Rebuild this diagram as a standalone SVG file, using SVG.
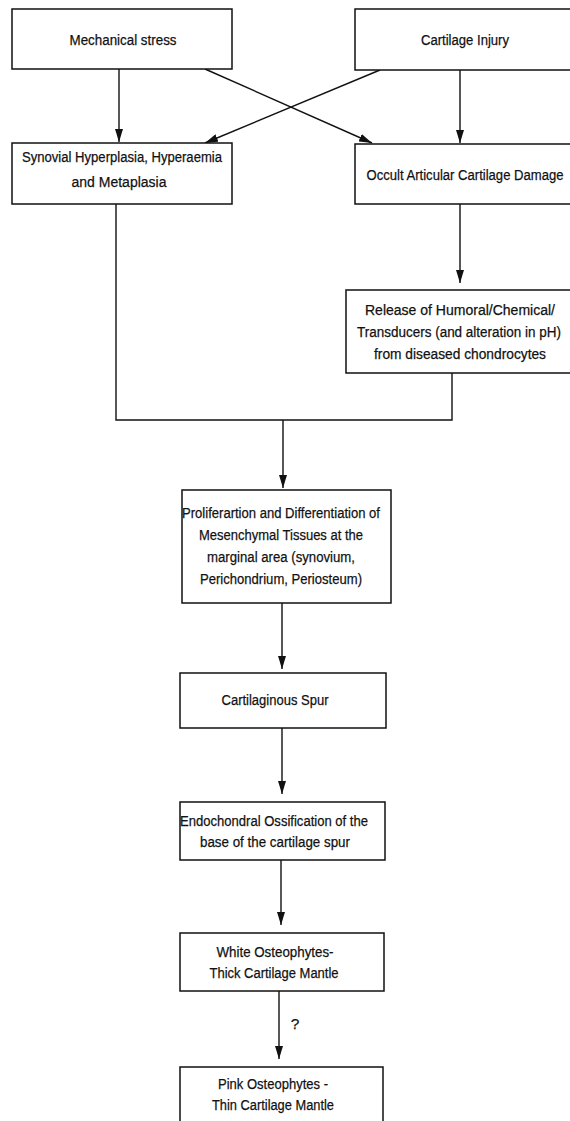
<svg xmlns="http://www.w3.org/2000/svg" width="570" height="1121" viewBox="0 0 570 1121">
<defs>
<marker id="ah" markerUnits="userSpaceOnUse" markerWidth="14" markerHeight="8" refX="13" refY="4" orient="auto">
<path d="M0,0 L13,4 L0,8 z" fill="#111"/>
</marker>
<style>
.box{fill:#fff;stroke:#111;stroke-width:1.5}
.t{font-family:"Liberation Sans",Arial,sans-serif;font-size:15.5px;fill:#111;stroke:#111;stroke-width:0.25;text-anchor:middle}
.c{fill:none;stroke:#111;stroke-width:1.4}
.a{marker-end:url(#ah)}
</style>
</defs>
<rect width="570" height="1121" fill="#fff"/>
<g id="connectors">
<line class="c a" x1="119" y1="69" x2="119" y2="142"/>
<line class="c a" x1="205" y1="69" x2="372" y2="143"/>
<line class="c a" x1="380" y1="70" x2="205" y2="143"/>
<line class="c a" x1="460" y1="70" x2="460" y2="143"/>
<line class="c a" x1="460" y1="204" x2="460" y2="283"/>
<polyline class="c" points="116,204 116,420 452,420 452,373"/>
<line class="c a" x1="283" y1="420" x2="283" y2="488"/>
<line class="c a" x1="282" y1="603" x2="282" y2="669"/>
<line class="c a" x1="282" y1="728" x2="282" y2="794"/>
<line class="c a" x1="281" y1="860" x2="281" y2="925"/>
<line class="c a" x1="279" y1="991" x2="279" y2="1059"/>
<text class="t" x="295" y="1029">?</text>
</g>
<g id="n-mech">
<rect class="box" x="12" y="9" width="220" height="60"/>
<text class="t" x="123" y="45" textLength="107" lengthAdjust="spacingAndGlyphs">Mechanical stress</text>
</g>
<g id="n-cart">
<rect class="box" x="355" y="9" width="222" height="61"/>
<text class="t" x="465" y="45" textLength="88" lengthAdjust="spacingAndGlyphs">Cartilage Injury</text>
</g>
<g id="n-syn">
<rect class="box" x="12" y="143" width="220" height="61"/>
<text class="t" x="122" y="162" textLength="200" lengthAdjust="spacingAndGlyphs">Synovial Hyperplasia, Hyperaemia</text>
<text class="t" x="119" y="187" textLength="95" lengthAdjust="spacingAndGlyphs">and Metaplasia</text>
</g>
<g id="n-occult">
<rect class="box" x="355" y="144" width="222" height="60"/>
<text class="t" x="465" y="180" textLength="197" lengthAdjust="spacingAndGlyphs">Occult Articular Cartilage Damage</text>
</g>
<g id="n-release">
<rect class="box" x="346" y="290" width="231" height="83"/>
<text class="t" x="460" y="315" textLength="190" lengthAdjust="spacingAndGlyphs">Release of Humoral/Chemical/</text>
<text class="t" x="459" y="337" textLength="204" lengthAdjust="spacingAndGlyphs">Transducers (and alteration in pH)</text>
<text class="t" x="460" y="359" textLength="172" lengthAdjust="spacingAndGlyphs">from diseased chondrocytes</text>
</g>
<g id="n-prolif">
<rect class="box" x="182" y="490" width="209" height="113"/>
<text class="t" x="281" y="518" textLength="198" lengthAdjust="spacingAndGlyphs">Proliferartion and Differentiation of</text>
<text class="t" x="281" y="540" textLength="164" lengthAdjust="spacingAndGlyphs">Mesenchymal Tissues at the</text>
<text class="t" x="281" y="562" textLength="148" lengthAdjust="spacingAndGlyphs">marginal area (synovium,</text>
<text class="t" x="281" y="584" textLength="162" lengthAdjust="spacingAndGlyphs">Perichondrium, Periosteum)</text>
</g>
<g id="n-spur">
<rect class="box" x="180" y="673" width="206" height="55"/>
<text class="t" x="275" y="705" textLength="107" lengthAdjust="spacingAndGlyphs">Cartilaginous Spur</text>
</g>
<g id="n-endo">
<rect class="box" x="180" y="802" width="205" height="58"/>
<text class="t" x="274" y="826" textLength="188" lengthAdjust="spacingAndGlyphs">Endochondral Ossification of the</text>
<text class="t" x="275" y="847" textLength="150" lengthAdjust="spacingAndGlyphs">base of  the cartilage spur</text>
</g>
<g id="n-white">
<rect class="box" x="180" y="933" width="204" height="58"/>
<text class="t" x="275" y="957" textLength="117" lengthAdjust="spacingAndGlyphs">White Osteophytes-</text>
<text class="t" x="274" y="978" textLength="129" lengthAdjust="spacingAndGlyphs">Thick Cartilage Mantle</text>
</g>
<g id="n-pink">
<rect class="box" x="180" y="1067" width="203" height="60"/>
<text class="t" x="273" y="1089" textLength="110" lengthAdjust="spacingAndGlyphs">Pink Osteophytes -</text>
<text class="t" x="273" y="1110" textLength="122" lengthAdjust="spacingAndGlyphs">Thin Cartilage Mantle</text>
</g>
</svg>
